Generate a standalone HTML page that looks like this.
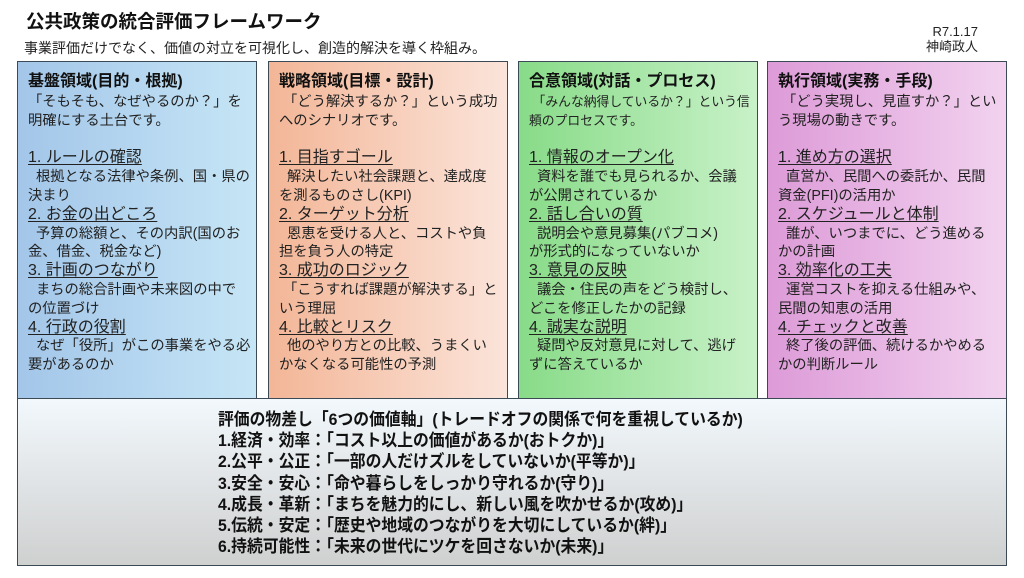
<!DOCTYPE html>
<html><head><meta charset="utf-8"><style>
*{margin:0;padding:0;box-sizing:border-box}
body{width:1024px;height:578px;background:#fff;position:relative;overflow:hidden;font-family:"Liberation Sans","Noto Sans CJK JP",sans-serif;color:#222}
.t{position:absolute;left:26px;top:8px;font-size:18.5px;font-weight:bold;color:#111}
.s{position:absolute;left:24px;top:38px;font-size:14px;color:#222}
.r{position:absolute;right:46px;top:24px;font-size:13px;line-height:15px;text-align:right;color:#222}
.b{position:absolute;top:61px;height:338px;width:240px;border:1.5px solid #3c4a55;padding:10px 4px 0 10px;font-size:14.3px;line-height:18.8px;white-space:nowrap;overflow:hidden}
.b h3{font-size:16px;font-weight:bold;line-height:19px;margin-bottom:2px;color:#111}
.b u{font-size:16px;text-underline-offset:2px}
.b1{left:17px;background:linear-gradient(90deg,#a3c6e9,#c6e6f6)}
.b2{left:268px;background:linear-gradient(90deg,#f3b697,#fbe4da)}
.b3{left:518px;background:linear-gradient(90deg,#88db88,#c8f1c8)}
.b4{left:767px;background:linear-gradient(90deg,#dd9bd8,#f2d2ef)}
.bot{position:absolute;left:17px;top:398px;width:990px;height:168px;border:1.5px solid #3c4a55;background:linear-gradient(180deg,#f2f8fc,#cfd0d0)}
.bt{position:absolute;left:218px;top:409px;font-size:17px;font-weight:bold;line-height:21.2px;transform:scaleX(0.93);transform-origin:left top;white-space:nowrap;color:#111}
</style></head><body>
<div class="t">公共政策の統合評価フレームワーク</div>
<div class="s">事業評価だけでなく、価値の対立を可視化し、創造的解決を導く枠組み。</div>
<div class="r">R7.1.17<br>神崎政人</div>
<div class="b b1"><h3>基盤領域(目的・根拠)</h3>「そもそも、なぜやるのか？」を<br>明確にする土台です。<br><br><u>1. ルールの確認</u><br>&nbsp; 根拠となる法律や条例、国・県の<br>決まり<br><u>2. お金の出どころ</u><br>&nbsp; 予算の総額と、その内訳(国のお<br>金、借金、税金など)<br><u>3. 計画のつながり</u><br>&nbsp; まちの総合計画や未来図の中で<br>の位置づけ<br><u>4. 行政の役割</u><br>&nbsp; なぜ「役所」がこの事業をやる必<br>要があるのか</div>
<div class="b b2"><h3>戦略領域(目標・設計)</h3>&nbsp;「どう解決するか？」という成功<br>へのシナリオです。<br><br><u>1. 目指すゴール</u><br>&nbsp; 解決したい社会課題と、達成度<br>を測るものさし(KPI)<br><u>2. ターゲット分析</u><br>&nbsp; 恩恵を受ける人と、コストや負<br>担を負う人の特定<br><u>3. 成功のロジック</u><br>&nbsp;「こうすれば課題が解決する」と<br>いう理屈<br><u>4. 比較とリスク</u><br>&nbsp; 他のやり方との比較、うまくい<br>かなくなる可能性の予測</div>
<div class="b b3"><h3>合意領域(対話・プロセス)</h3><span style="font-size:12.8px">&nbsp;「みんな納得しているか？」という信<br>頼のプロセスです。</span><br><br><u>1. 情報のオープン化</u><br>&nbsp; 資料を誰でも見られるか、会議<br>が公開されているか<br><u>2. 話し合いの質</u><br>&nbsp; 説明会や意見募集(パブコメ)<br>が形式的になっていないか<br><u>3. 意見の反映</u><br>&nbsp; 議会・住民の声をどう検討し、<br>どこを修正したかの記録<br><u>4. 誠実な説明</u><br>&nbsp; 疑問や反対意見に対して、逃げ<br>ずに答えているか</div>
<div class="b b4"><h3>執行領域(実務・手段)</h3>&nbsp;「どう実現し、見直すか？」とい<br>う現場の動きです。<br><br><u>1. 進め方の選択</u><br>&nbsp; 直営か、民間への委託か、民間<br>資金(PFI)の活用か<br><u>2. スケジュールと体制</u><br>&nbsp; 誰が、いつまでに、どう進める<br>かの計画<br><u>3. 効率化の工夫</u><br>&nbsp; 運営コストを抑える仕組みや、<br>民間の知恵の活用<br><u>4. チェックと改善</u><br>&nbsp; 終了後の評価、続けるかやめる<br>かの判断ルール</div>
<div class="bot"></div>
<div class="bt">評価の物差し「6つの価値軸」(トレードオフの関係で何を重視しているか)<br>1.経済・効率：「コスト以上の価値があるか(おトクか)」<br>2.公平・公正：「一部の人だけズルをしていないか(平等か)」<br>3.安全・安心：「命や暮らしをしっかり守れるか(守り)」<br>4.成長・革新：「まちを魅力的にし、新しい風を吹かせるか(攻め)」<br>5.伝統・安定：「歴史や地域のつながりを大切にしているか(絆)」<br>6.持続可能性：「未来の世代にツケを回さないか(未来)」</div>
</body></html>
